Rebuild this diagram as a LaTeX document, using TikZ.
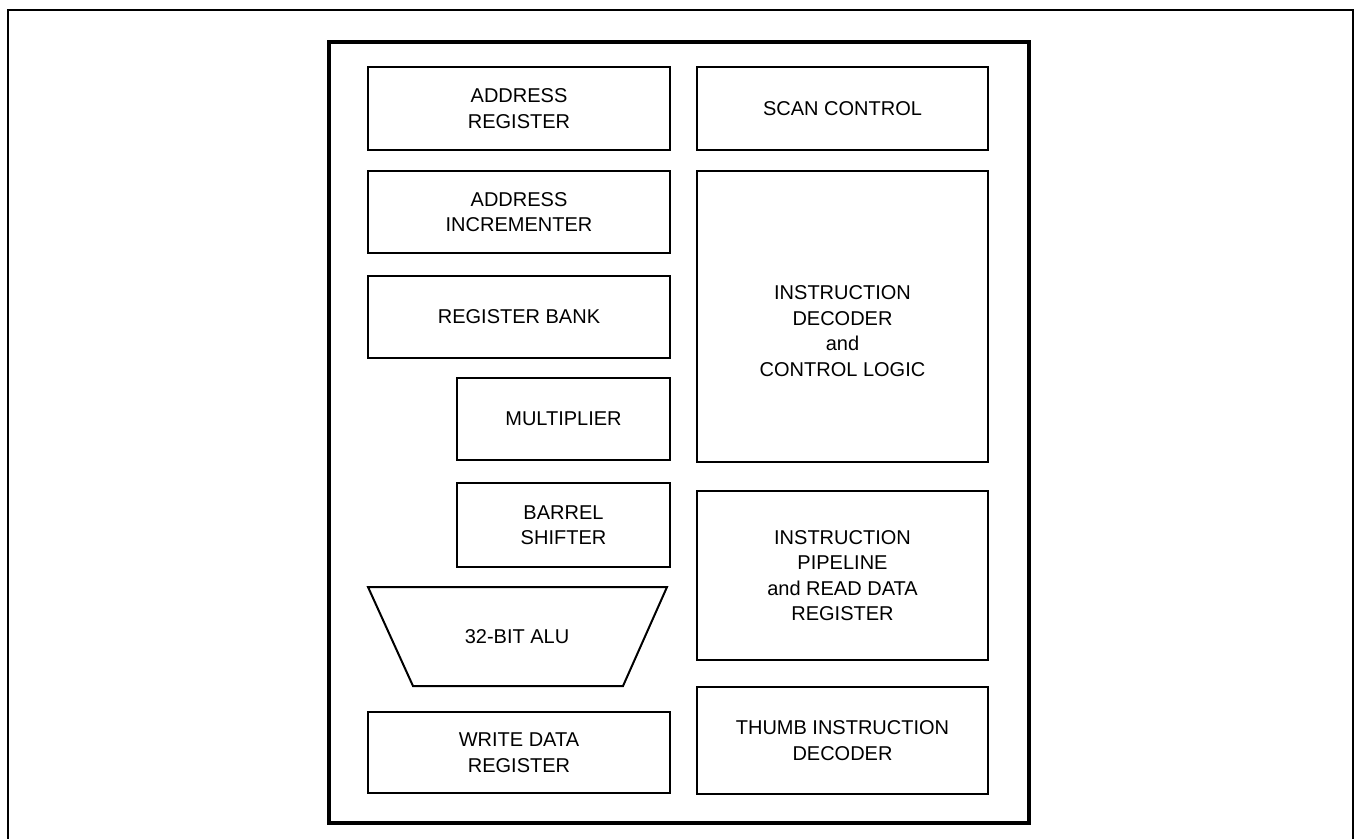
\documentclass[tikz,border=0pt]{standalone}
\usepackage{fontspec}
\setmainfont{Liberation Sans}
\begin{document}
\begin{tikzpicture}[x=1pt,y=-1pt,
  blk/.style={draw, line width=2pt, inner sep=0pt, align=center,
    font=\fontsize{20}{25.5}\selectfont},
  lbl/.style={inner sep=0pt, align=center, font=\fontsize{20}{25.5}\selectfont}]
\useasboundingbox (0,0) rectangle (1356,838);
% outer frame (open at bottom)
\draw[line width=2pt] (8,840) -- (8,10) -- (1353,10) -- (1353,840);
% inner frame
\draw[line width=4pt] (329,41.5) rectangle (1028.5,822.5);
% left column
\node[blk, minimum width=302pt, minimum height=83pt] (ar) at (519,108.5) {ADDRESS\\REGISTER};
\node[blk, minimum width=302pt, minimum height=82pt] (ai) at (519,212) {ADDRESS\\INCREMENTER};
\node[blk, minimum width=302pt, minimum height=82pt] (rb) at (519,317) {REGISTER BANK};
\node[blk, minimum width=213pt, minimum height=82pt] (mul) at (563.5,419) {MULTIPLIER};
\node[blk, minimum width=213pt, minimum height=84pt] (bs) at (563.5,525) {BARREL\\SHIFTER};
\coordinate (alutl) at (368,587);
\coordinate (alutr) at (667,587);
\coordinate (alubr) at (623,686);
\coordinate (alubl) at (413,686);
\draw[line width=2pt, line join=miter] (alutl) -- (alutr) -- (alubr) -- (alubl) -- cycle;
\node[lbl] (alu) at (517,637) {32-BIT ALU};
\node[blk, minimum width=302pt, minimum height=81pt] (wd) at (519,752.5) {WRITE DATA\\REGISTER};
% right column
\node[blk, minimum width=291pt, minimum height=83pt] (sc) at (842.5,108.5) {SCAN CONTROL};
\node[blk, minimum width=291pt, minimum height=291pt] (id) at (842.5,316.5) {};
\node[lbl] (idt) at (842.5,331) {INSTRUCTION\\DECODER\\and\\CONTROL LOGIC};
\node[blk, minimum width=291pt, minimum height=169pt] (ip) at (842.5,575.5) {INSTRUCTION\\PIPELINE\\and READ DATA\\REGISTER};
\node[blk, minimum width=291pt, minimum height=107pt] (th) at (842.5,740.5) {THUMB INSTRUCTION\\DECODER};
\end{tikzpicture}
\end{document}
